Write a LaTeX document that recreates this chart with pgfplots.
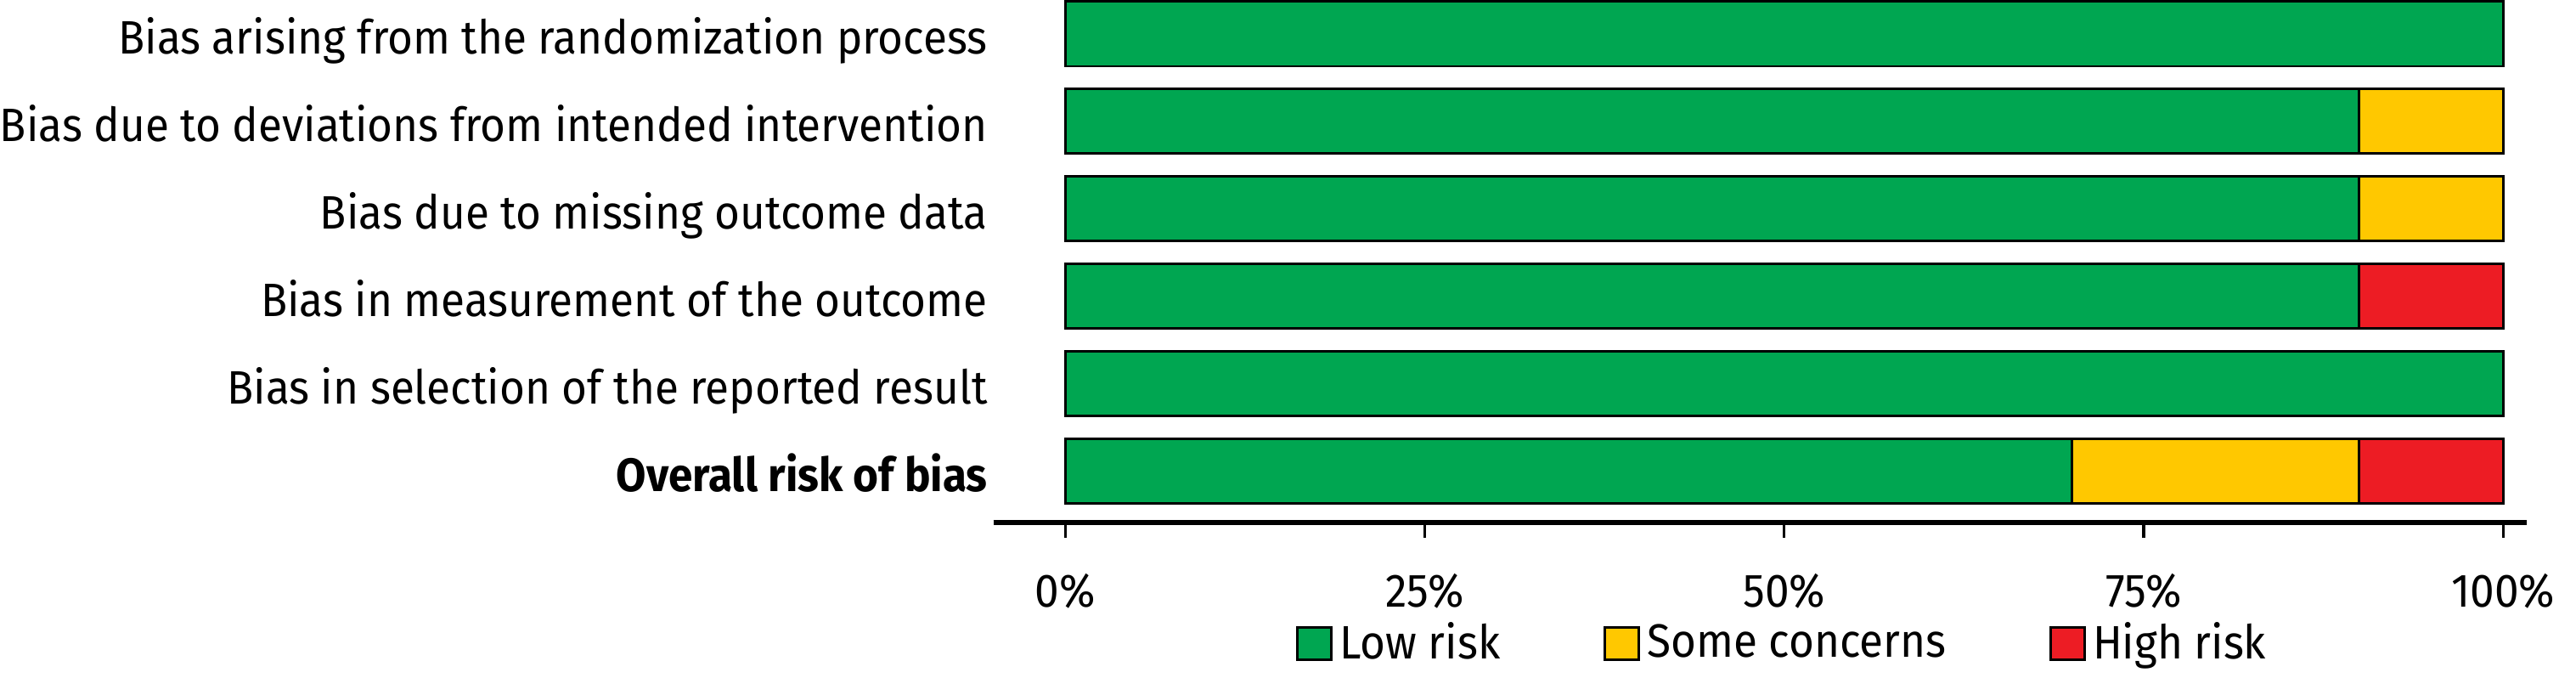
\documentclass[border=0pt]{standalone}
\usepackage{fontspec}
\setmainfont[FakeStretch=0.93]{Fira Sans}
\usepackage{pgfplots}
\pgfplotsset{compat=1.18}

\definecolor{lowrisk}{HTML}{00A651}
\definecolor{somecon}{HTML}{FFC800}
\definecolor{highrisk}{HTML}{ED1C24}

\newcommand{\chartfont}{\fontsize{13.8pt}{16pt}\selectfont}

\begin{document}
\begin{tikzpicture}
\begin{axis}[
    scale only axis,
    width=451.75pt,
    height=154pt,
    xbar stacked,
    bar width=0.74,
    xmin=-5, xmax=101.65,
    ymin=0.408, ymax=6.388,
    clip=false,
    axis x line*=bottom,
    axis y line*=left,
    x axis line style={-, line width=1.5pt},
    y axis line style={draw=none},
    xtick={0,25,50,75,100},
    xticklabels={0\%,25\%,50\%,75\%,100\%},
    ytick={1,2,3,4,5,6},
    yticklabels={\textbf{Overall risk of bias},
        Bias in selection of the reported result,
        Bias in measurement of the outcome,
        Bias due to missing outcome data,
        Bias due to deviations from intended intervention,
        Bias arising from the randomization process},
    tick align=outside,
    x tick style={line width=0.8pt, black},
    y tick style={draw=none},
    major tick length=4.5pt,
    ticklabel style={font=\chartfont},
    xticklabel style={yshift=-7pt},
    yticklabel style={anchor=base east, inner sep=0pt, yshift=-6pt, xshift=2.9pt},
    legend style={
        at={(0.516,-0.2305)}, anchor=center,
        draw=none, font=\chartfont,
        legend columns=3,
        /tikz/every even column/.append style={column sep=28.5pt},
    },
    legend image code/.code={
        \draw[#1, line width=0.75pt] (0pt,-4.75pt) rectangle (10pt,4.75pt);
    },
]
\addplot[fill=lowrisk, draw=black, line width=0.75pt] coordinates {
    (70,1) (100,2) (90,3) (90,4) (90,5) (100,6)
};
\addplot[fill=somecon, draw=black, line width=0.75pt] coordinates {
    (20,1) (0,2) (0,3) (10,4) (10,5) (0,6)
};
\addplot[fill=highrisk, draw=black, line width=0.75pt] coordinates {
    (10,1) (0,2) (10,3) (0,4) (0,5) (0,6)
};
\legend{Low risk, Some concerns, High risk}
\end{axis}
\path (current axis.east) ++(14.5pt,0);
\end{tikzpicture}
\end{document}
